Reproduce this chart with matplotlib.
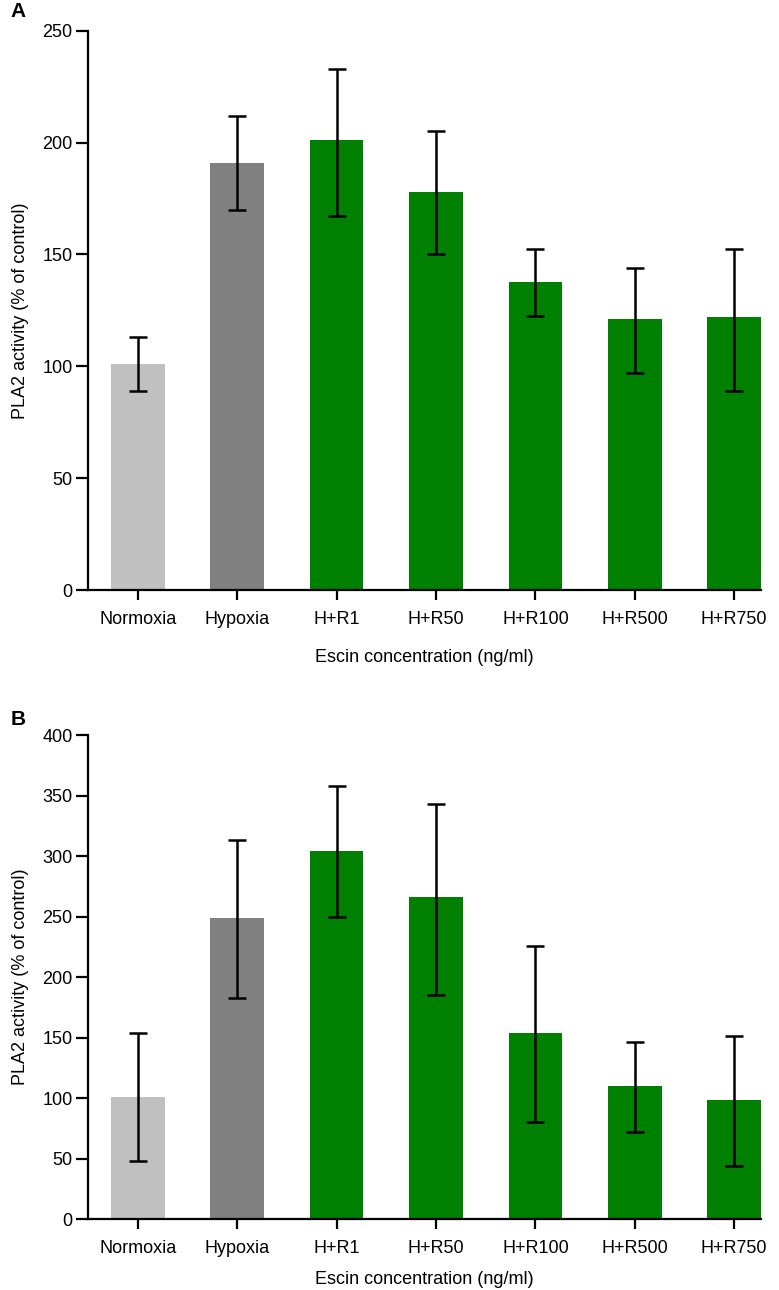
import numpy as np
import matplotlib.pyplot as plt

plt.rcParams['font.family'] = ['Liberation Sans', 'DejaVu Sans']

groups = ["Normoxia", "Hypoxia", "H+R1", "H+R50", "H+R100", "H+R500", "H+R750"]
colors = ["#c0c0c0", "#808080", "#008000", "#008000", "#008000", "#008000", "#008000"]

# panel A
mean_a = [101, 191, 201, 178, 137.5, 121, 122]
upper_a = [113, 212, 233, 205, 152.5, 144, 152.5]
lower_a = [89, 170, 167, 150, 122.5, 97, 89]

# panel B
mean_b = [101, 249, 304, 266, 154, 110, 98]
upper_b = [154, 313, 358, 343, 226, 146, 151]
lower_b = [48, 183, 250, 185, 80, 72, 44]

fig = plt.figure(figsize=(7.79, 12.9), dpi=100)
ax_a = fig.add_axes([0.113, 0.5426, 0.864, 0.4336])
ax_b = fig.add_axes([0.113, 0.0550, 0.864, 0.3752])


def draw_panel(ax, mean, upper, lower, ymax, step, xpad):
    x = np.arange(len(groups))
    mean = np.array(mean)
    err = [mean - np.array(lower), np.array(upper) - mean]
    ax.bar(x, mean, width=0.54, color=colors, zorder=1)
    ax.errorbar(x, mean, yerr=err, fmt="none", ecolor="black",
                elinewidth=1.8, capsize=6.5, capthick=1.8, zorder=2)
    ax.set_xlim(-0.5, 6.27)
    ax.set_ylim(0, ymax)
    ax.set_yticks(np.arange(0, ymax + 1, step))
    ax.set_xticks(x)
    ax.set_xticklabels(groups)
    for s in ["top", "right"]:
        ax.spines[s].set_visible(False)
    for s in ["left", "bottom"]:
        ax.spines[s].set_linewidth(1.6)
    ax.tick_params(axis="y", length=9, width=1.6, labelsize=13, pad=2)
    ax.tick_params(axis="x", length=7, width=1.6, labelsize=13, pad=8)
    ax.set_ylabel("PLA2 activity (% of control)", fontsize=13, labelpad=10)
    ax.set_xlabel("Escin concentration (ng/ml)", fontsize=13, labelpad=xpad)


draw_panel(ax_a, mean_a, upper_a, lower_a, 250, 50, 15)
draw_panel(ax_b, mean_b, upper_b, lower_b, 400, 50, 10)

fig.text(0.014, 0.991, "A", fontsize=15, fontweight="bold", va="center")
fig.text(0.014, 0.442, "B", fontsize=15, fontweight="bold", va="center")

fig.savefig("out.png", dpi=100)
